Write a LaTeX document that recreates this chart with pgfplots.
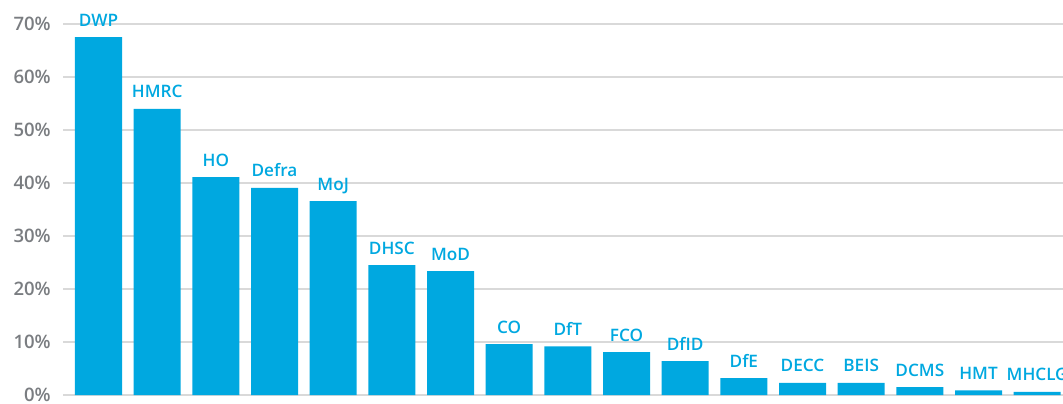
\documentclass[border=0pt]{standalone}
\usepackage{pgfplots}
\pgfplotsset{compat=1.18}
\usepackage{fontspec}
\setmainfont{Open Sans}
\newfontfamily\semifont{Open Sans Semibold}
\usetikzlibrary{calc}
\definecolor{barblue}{HTML}{00A8E0}
\definecolor{gridgray}{HTML}{D9D9D9}
\definecolor{tickgray}{HTML}{7A7D81}

\begin{document}
\begin{tikzpicture}
\begin{axis}[
    x=1.4665cm, y=0.1325cm,
    ybar, bar width=1.175cm, bar shift=0pt,
    xmin=-0.605, xmax=16.44,
    ymin=0, ymax=70,
    axis line style={draw=none},
    ymajorgrids, grid style={gridgray, line width=1.1pt},
    ytick={0,10,...,70},
    xtick=\empty,
    /pgf/number format/assume math mode=true,
    yticklabel={\pgfmathprintnumber{\tick}\%},
    yticklabel style={font=\semifont\fontsize{13.2}{15}\selectfont, text=tickgray, anchor=east, inner sep=0pt, xshift=-0.3cm},
    major tick length=0pt,
    tick style={draw=none},
    nodes near coords={\pgfplotspointmeta},
    point meta=explicit symbolic,
    nodes near coords style={font=\semifont\fontsize{12.2}{14}\selectfont, text=barblue, anchor=base, inner sep=0pt, yshift=0.275cm},
    clip=false,
]
\addplot[fill=barblue, draw=none] table[meta=label] {
x y label
0 67.5 DWP
1 54.0 HMRC
2 41.1 HO
3 39.1 Defra
4 36.6 MoJ
5 24.5 DHSC
6 23.4 MoD
7 9.6 CO
8 9.2 DfT
9 8.1 FCO
10 6.4 DfID
11 3.2 DfE
12 2.3 DECC
13 2.3 BEIS
14 1.5 DCMS
15 0.9 HMT
16 0.6 MHCLG
};
\coordinate (ll) at (rel axis cs:0,0);
\coordinate (ur) at (rel axis cs:1,1);
\end{axis}
\pgfresetboundingbox
\path[use as bounding box] ($(ll)+(-1.575cm,-0.2cm)$) rectangle ($(ur)+(0,0.6cm)$);
\end{tikzpicture}
\end{document}
